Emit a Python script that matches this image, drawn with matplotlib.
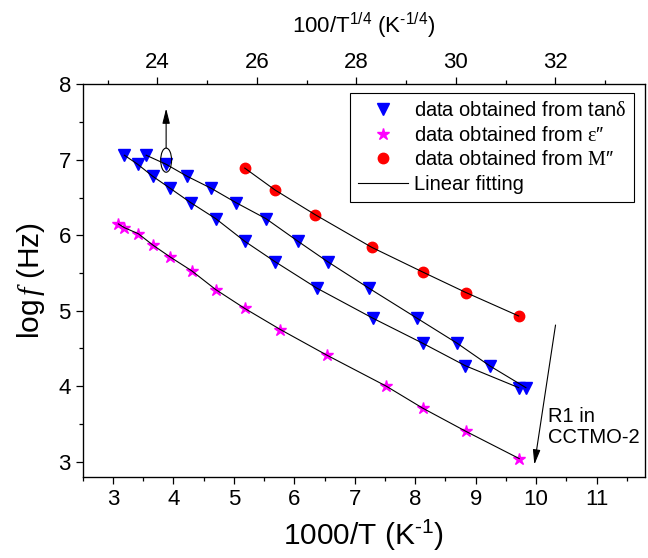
import numpy as np
import matplotlib
matplotlib.use("Agg")
from matplotlib import pyplot as plt
from matplotlib.patches import Ellipse
from matplotlib.ticker import MultipleLocator

plt.rcParams['font.family'] = ['Liberation Sans', 'DejaVu Sans']
plt.rcParams['mathtext.fontset'] = 'custom'
plt.rcParams['mathtext.default'] = 'regular'
plt.rcParams['mathtext.rm'] = 'Liberation Sans'
plt.rcParams['mathtext.it'] = 'Liberation Serif:italic'
plt.rcParams['mathtext.sf'] = 'Liberation Serif'

# tan(delta) peaks, two relaxations
tan_x1 = [3.19, 3.41, 3.66, 3.95, 4.29, 4.70, 5.18, 5.68, 6.37, 7.30, 8.12, 8.83, 9.71]
tan_x2 = [3.55, 3.88, 4.23, 4.63, 5.04, 5.53, 6.06, 6.55, 7.23, 8.03, 8.69, 9.23, 9.83]
tan_y = [7.06, 6.94, 6.78, 6.62, 6.43, 6.22, 5.92, 5.65, 5.30, 4.90, 4.57, 4.27, 3.98]

# epsilon'' peaks
eps_x = [3.09, 3.19, 3.42, 3.66, 3.95, 4.30, 4.70, 5.18, 5.77, 6.54, 7.52, 8.12, 8.84, 9.72]
eps_y = [6.15, 6.10, 6.02, 5.87, 5.71, 5.53, 5.28, 5.03, 4.75, 4.41, 4.00, 3.71, 3.40, 3.04]

# M'' peaks
mod_x = [5.18, 5.68, 6.35, 7.28, 8.13, 8.84, 9.71]
mod_y = [6.89, 6.60, 6.27, 5.84, 5.51, 5.24, 4.93]

fig = plt.figure(figsize=(6.48, 5.58), dpi=100)
ax = fig.add_axes([0.1276, 0.1457, 0.8678, 0.7032])

ax.plot(tan_x1, tan_y, 'v', color='#0000ff', ms=8, label=r'data obtained from tan$\mathsf{\delta}$')
ax.plot(tan_x2, tan_y, 'v', color='#0000ff', ms=8)
ax.plot(eps_x, eps_y, '*', color='#ff00ff', ms=9, label=r'data obtained from $\mathsf{\varepsilon}$″')
ax.plot(mod_x, mod_y, 'o', color='#ff0000', ms=7.5, label=r'data obtained from $\mathsf{M}$″')

ax.plot(tan_x1, tan_y, '-', color='k', lw=0.8, zorder=3, label='Linear fitting')
ax.plot(tan_x2, tan_y, '-', color='k', lw=0.8, zorder=3)
ax.plot(eps_x, eps_y, '-', color='k', lw=0.8, zorder=3)
ax.plot(mod_x, mod_y, '-', color='k', lw=0.8, zorder=3)

ax.set_xlim(2.5, 11.8)
ax.set_ylim(2.8, 8)
ax.xaxis.set_major_locator(MultipleLocator(1))
ax.xaxis.set_minor_locator(MultipleLocator(0.5))
ax.yaxis.set_major_locator(MultipleLocator(1))
ax.yaxis.set_minor_locator(MultipleLocator(0.5))
ax.tick_params(which='both', direction='out', top=False, right=False, labelsize=16, width=0.9)
ax.tick_params(which='major', length=5)
ax.tick_params(which='minor', length=3)
for s in ax.spines.values():
    s.set_linewidth(0.9)

ax.set_xlabel('1000/T (K$^{\u2010 1}$)', fontsize=21.5, labelpad=6)
ax.set_ylabel(r'log$\,\mathit{f}$ (Hz)', fontsize=21.5, labelpad=8)

ax2 = ax.twiny()
ax2.set_xlim(22.5, 33.8)
ax2.xaxis.set_major_locator(MultipleLocator(2))
ax2.xaxis.set_minor_locator(MultipleLocator(1))
ax2.tick_params(which='both', direction='out', labelsize=16, width=0.9)
ax2.tick_params(which='major', length=5)
ax2.tick_params(which='minor', length=3)
ax2.set_xlabel('100/T$^{1/4}$ (K$^{\u20101/4}$)', fontsize=16, labelpad=13)

# circled point and arrow pointing to top axis
ax.add_patch(Ellipse((3.88, 6.995), 0.18, 0.32, fill=False, color='k', lw=0.8, zorder=4))
arr = dict(arrowstyle='-|>,head_length=0.6,head_width=0.15', color='k', lw=0.8,
           mutation_scale=15, shrinkA=0, shrinkB=0)
ax.annotate('', xy=(3.88, 7.68), xytext=(3.88, 7.155), arrowprops=arr)
ax.annotate('', xy=(9.97, 2.96), xytext=(10.32, 4.81), arrowprops=arr)
ax.text(10.19, 3.72, 'R1 in\nCCTMO-2', fontsize=14.5, va='top', ha='left', linespacing=1.1)

leg = ax.legend(loc='upper right', bbox_to_anchor=(0.981, 0.978), fontsize=14.5,
                fancybox=False, edgecolor='k', framealpha=1, handlelength=2.5,
                handletextpad=0.3, labelspacing=0.28, borderpad=0.4, borderaxespad=0)
leg.get_frame().set_linewidth(0.8)

plt.savefig('out.png', dpi=100)
